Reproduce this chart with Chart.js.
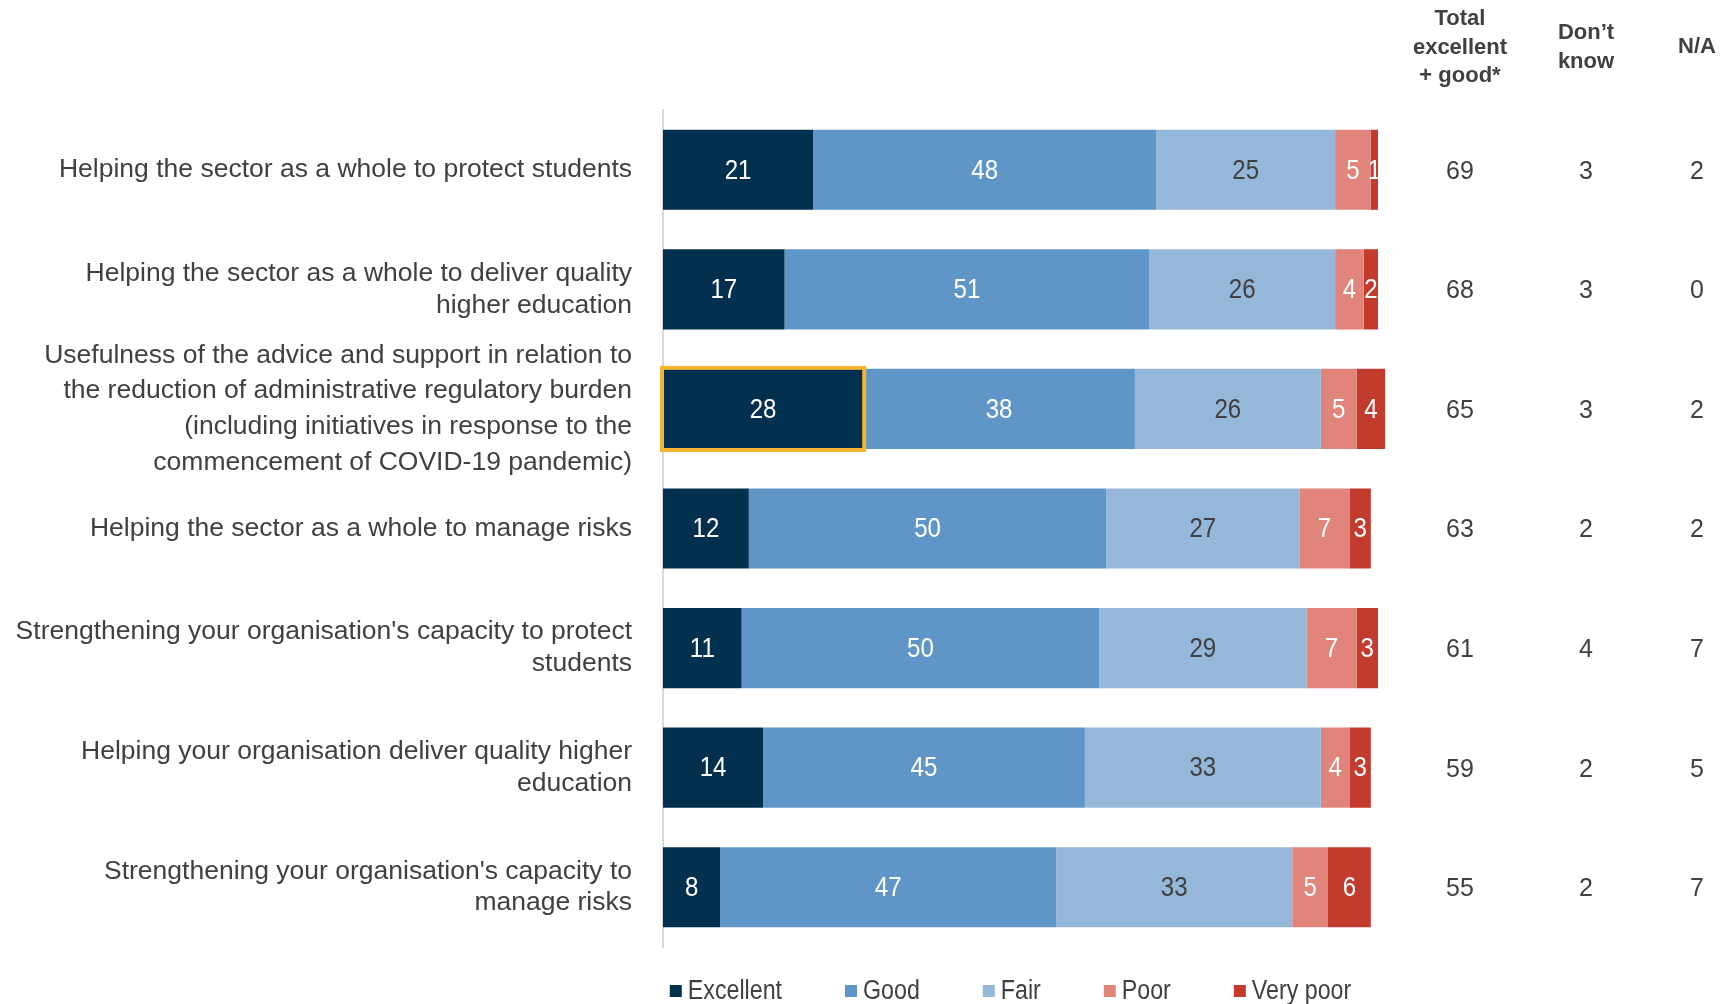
<!DOCTYPE html>
<html>
<head>
<meta charset="utf-8">
<script src="https://cdn.jsdelivr.net/npm/chart.js@4.4.1/dist/chart.umd.min.js"></script>
<style>
  html, body { margin: 0; padding: 0; background: #fff; }
  #wrap { width: 1731px; height: 1004px; }
</style>
</head>
<body>
<div id="wrap"><canvas id="myChart" width="1731" height="1004"></canvas></div>
<script>
// rating statements
var categories = [
  'Helping the sector as a whole to protect students',
  ['Helping the sector as a whole to deliver quality', 'higher education'],
  ['Usefulness of the advice and support in relation to', 'the reduction of administrative regulatory burden', '(including initiatives in response to the', 'commencement of COVID-19 pandemic)'],
  'Helping the sector as a whole to manage risks',
  ["Strengthening your organisation's capacity to protect", 'students'],
  ['Helping your organisation deliver quality higher', 'education'],
  ["Strengthening your organisation's capacity to", 'manage risks']
];

// % of respondents per rating
var excellent = [21, 17, 28, 12, 11, 14, 8];
var good      = [48, 51, 38, 50, 50, 45, 47];
var fair      = [25, 26, 26, 27, 29, 33, 33];
var poor      = [5, 4, 5, 7, 7, 4, 5];
var veryPoor  = [1, 2, 4, 3, 3, 3, 6];

// side columns
var totalGood = [69, 68, 65, 63, 61, 59, 55];
var dontKnow  = [3, 3, 3, 2, 4, 2, 2];
var notApp    = [2, 0, 2, 2, 7, 5, 7];
var colHeads  = [['Total', 'excellent', '+ good*'], ["Don\u2019t", 'know'], ['N/A']];

var highlightRow = 2;

var grey = '#404040';
var sans = "'Liberation Sans', Arial, sans-serif";

// squeezed text, the narrow look of the bar and legend labels
function narrowText(ctx, txt, x, y, sx) {
  ctx.save();
  ctx.translate(x, y);
  ctx.scale(sx, 1);
  ctx.fillText(txt, 0, 0);
  ctx.restore();
}

var extras = {
  id: 'extras',
  afterDatasetsDraw: function(chart) {
    var ctx = chart.ctx;
    ctx.save();
    ctx.font = '28px ' + sans;
    ctx.textAlign = 'center';
    ctx.textBaseline = 'middle';
    chart.data.datasets.forEach(function(ds, i) {
      var meta = chart.getDatasetMeta(i);
      meta.data.forEach(function(bar, j) {
        ctx.fillStyle = ds.labelColor;
        narrowText(ctx, ds.data[j], (bar.x + bar.base) / 2, bar.y + 1, 0.86);
      });
    });

    // box round the excellent bar of the highlighted row
    var b = chart.getDatasetMeta(0).data[highlightRow];
    ctx.strokeStyle = '#F4B52F';
    ctx.lineWidth = 4;
    ctx.strokeRect(b.base - 1, b.y - b.height / 2 - 1, b.x - b.base + 2, b.height + 2);
    ctx.restore();
  },
  afterDraw: function(chart) {
    var ctx = chart.ctx;
    var area = chart.chartArea;
    var y = chart.scales.y;
    var cols = [totalGood, dontKnow, notApp];
    var offs = [82, 208, 319];
    ctx.save();
    ctx.textAlign = 'center';
    ctx.textBaseline = 'middle';
    ctx.fillStyle = grey;
    ctx.font = 'bold 22px ' + sans;
    colHeads.forEach(function(lines, c) {
      var top = lines.length == 3 ? 19 : (lines.length == 2 ? 33 : 47);
      lines.forEach(function(t, k) {
        ctx.fillText(t, area.right + offs[c], top + k * 28.7);
      });
    });
    ctx.font = '25px ' + sans;
    cols.forEach(function(arr, c) {
      arr.forEach(function(v, j) {
        ctx.fillText(v, area.right + offs[c], y.getPixelForValue(j) + 2);
      });
    });

    // legend under the bars
    var sx = 0.86, box = 12, gap = 6, pad = 63;
    ctx.font = '27px ' + sans;
    ctx.textAlign = 'left';
    var items = chart.data.datasets.map(function(ds) {
      return { label: ds.label, color: ds.backgroundColor, w: ctx.measureText(ds.label).width * sx };
    });
    var total = 0;
    items.forEach(function(it, i) {
      total += box + gap + it.w + (i < items.length - 1 ? pad : 0);
    });
    var lx = (area.left + area.right) / 2 - total / 2 - 10;
    var ly = 991;
    items.forEach(function(it) {
      ctx.fillStyle = it.color;
      ctx.fillRect(lx, ly - box / 2, box, box);
      ctx.fillStyle = grey;
      narrowText(ctx, it.label, lx + box + gap, ly + 1, sx);
      lx += box + gap + it.w + pad;
    });
    ctx.restore();
  }
};

var ctx = document.getElementById('myChart').getContext('2d');
var myChart = new Chart(ctx, {
  type: 'bar',
  data: {
    labels: categories,
    datasets: [
      { label: 'Excellent', data: excellent, backgroundColor: '#03304F', labelColor: '#ffffff' },
      { label: 'Good', data: good, backgroundColor: '#6096C7', labelColor: '#ffffff' },
      { label: 'Fair', data: fair, backgroundColor: '#95B8DA', labelColor: grey },
      { label: 'Poor', data: poor, backgroundColor: '#E1847B', labelColor: '#ffffff' },
      { label: 'Very poor', data: veryPoor, backgroundColor: '#C23B2D', labelColor: '#ffffff' }
    ]
  },
  options: {
    indexAxis: 'y',
    responsive: false,
    animation: false,
    datasets: {
      bar: { categoryPercentage: 1, barPercentage: 0.67, borderWidth: 0, clip: false }
    },
    layout: { padding: { top: 110, right: 353, bottom: 57, left: 0 } },
    scales: {
      x: { stacked: true, display: false, min: 0, max: 100 },
      y: {
        stacked: true,
        grid: { display: false, drawTicks: false },
        border: { display: true, color: '#d9d9d9', width: 2 },
        ticks: {
          autoSkip: false,
          color: grey,
          font: function(c) {
            // the four-line statement is set with looser leading
            return { family: sans, size: 26.5, lineHeight: c.index == highlightRow ? 1.34 : 1.2 };
          },
          padding: 31
        },
        afterFit: function(scale) { scale.width = 663; }
      }
    },
    plugins: {
      tooltip: { enabled: false },
      legend: { display: false }
    }
  },
  plugins: [extras]
});
</script>
</body>
</html>
